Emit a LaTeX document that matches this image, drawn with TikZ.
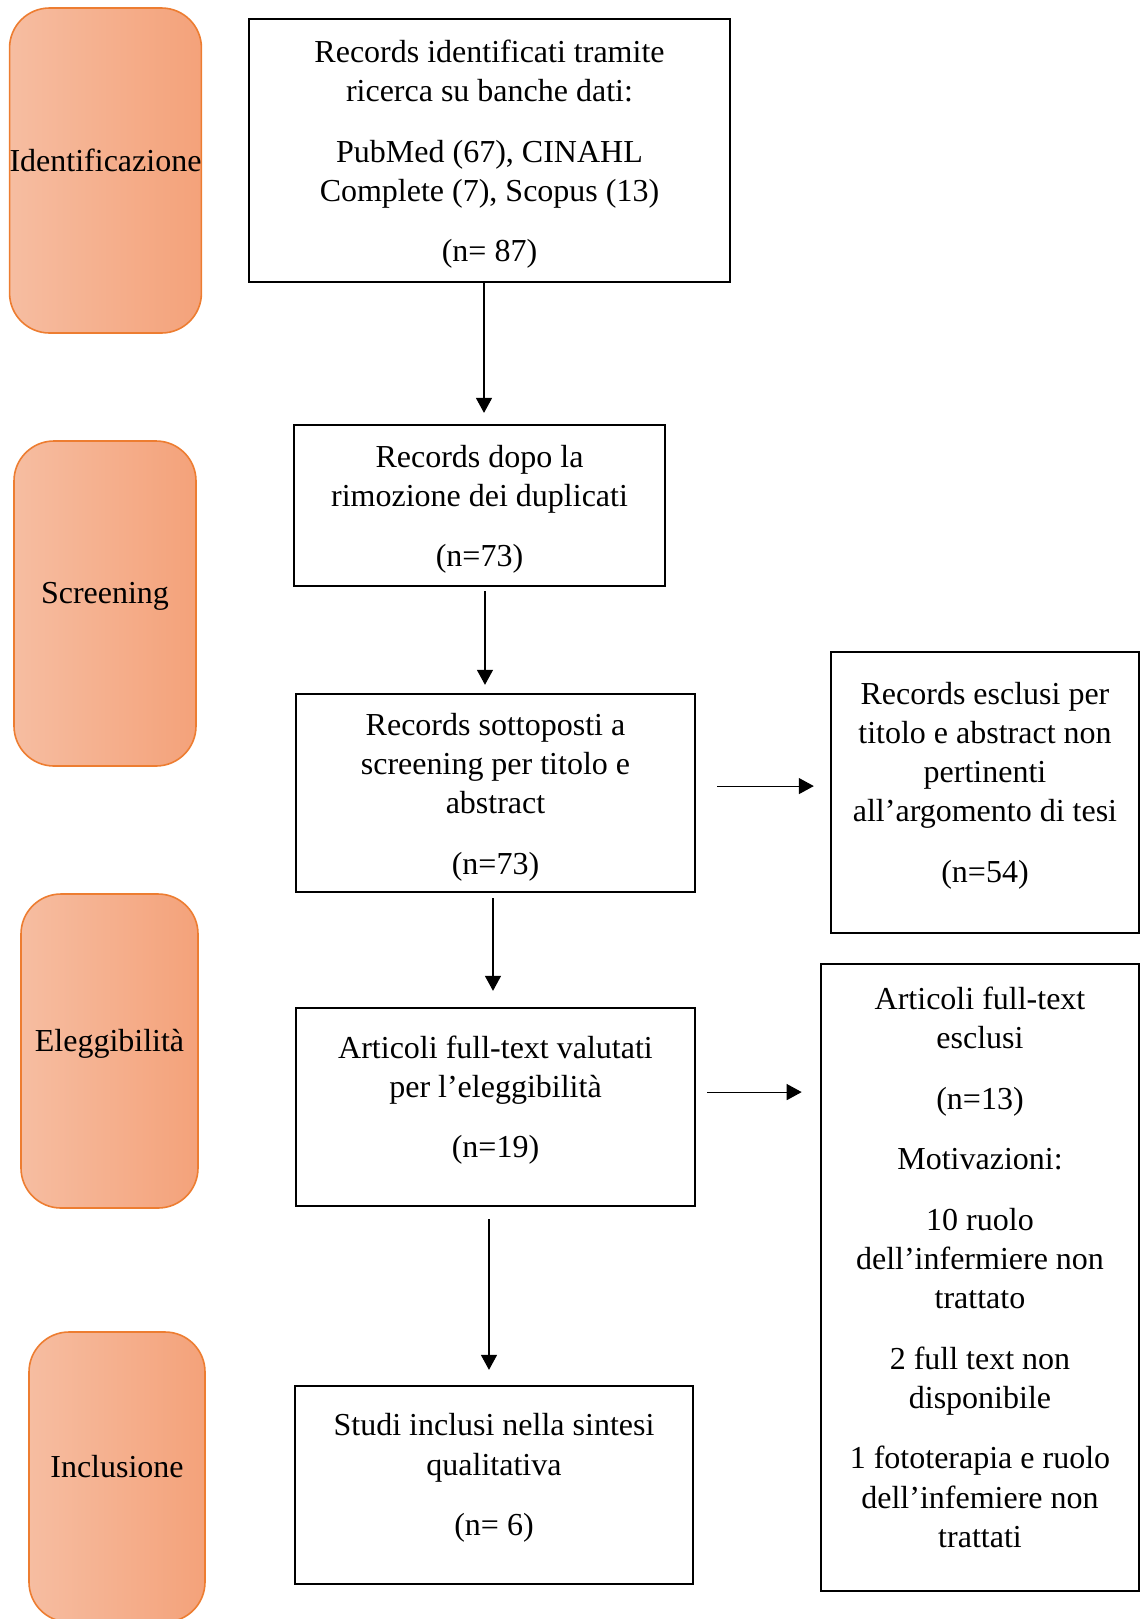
\documentclass[tikz,border=0pt]{standalone}
\usepackage{fontspec}
\setmainfont{Liberation Serif}
\usetikzlibrary{arrows.meta}
\definecolor{phaseleft}{HTML}{F6BDA1}
\definecolor{phaseright}{HTML}{F4A27A}
\definecolor{phaseline}{HTML}{ED7D31}

\begin{document}
\begin{tikzpicture}[x=0.375pt, y=-0.375pt,
    font=\fontsize{12}{14.7}\selectfont,
    box/.style 2 args={draw, line width=0.9pt, align=center, inner sep=0pt,
      minimum width=#1*0.375pt, minimum height=#2*0.375pt},
    phase/.style 2 args={draw=phaseline, line width=0.6pt, rounded corners=15pt,
      left color=phaseleft, right color=phaseright, align=center, inner sep=0pt,
      minimum width=#1*0.375pt, minimum height=#2*0.375pt},
    arr/.style={-{Triangle[length=5.6pt,width=6pt]}, line width=0.4pt}]
    \useasboundingbox (0,0) rectangle (1141,1619);
    \def\g{8pt}
    \def\tup{\rule[-7.8pt]{0pt}{0pt}}
    \def\tdown{\rule{0pt}{11.2pt}}
    % phases
    \node [phase={185}{325}] (A0_0) at (105.5, 170.5) {Identificazione\rule[-8pt]{0pt}{0pt}};
    \node [phase={182}{325}] (A1_0) at (105, 603.5) {Screening\rule[-8pt]{0pt}{0pt}};
    \node [phase={177}{314}] (A3_0) at (109.5, 1051) {Eleggibilità\rule[-8pt]{0pt}{0pt}};
    \node [phase={176}{290}] (A4_0) at (117, 1477) {Inclusione\rule[-8pt]{0pt}{0pt}};
    % main column
    \node [box={481}{263}] (A0_1) at (489.5, 150.5) {\tdown Records identificati tramite\\ ricerca su banche dati:\\[\g] PubMed (67), CINAHL\\ Complete (7), Scopus (13)\\[\g] (n= 87)};
    \node [box={371}{161}] (A1_1) at (479.5, 505.5) {\tdown Records dopo la\\ rimozione dei duplicati\\[\g] (n=73)};
    \node [box={399}{198}] (A2_1) at (495.5, 793) {\tdown Records sottoposti a\\ screening per titolo e\\ abstract\\[\g] (n=73)};
    \node [box={399}{198}] (A3_1) at (495.5, 1107) {Articoli full-text valutati\\ per l’eleggibilità\\[\g] (n=19)\tup};
    \node [box={398}{198}] (A4_1) at (494, 1485) {Studi inclusi nella sintesi\\ qualitativa\\[\g] (n= 6)\tup};
    % exclusions
    \node [box={308}{281}] (A2_2) at (985, 792.5) {Records esclusi per\\ titolo e abstract non\\ pertinenti\\ all’argomento di tesi\\[\g] (n=54)\tup};
    \node [box={318}{627}] (A3_2) at (980, 1277.5) {Articoli full-text\\ esclusi\\[\g] (n=13)\\[\g] Motivazioni:\\[\g] 10 ruolo\\ dell’infermiere non\\ trattato\\[\g] 2 full text non\\ disponibile\\[\g] 1 fototerapia e ruolo\\ dell’infemiere non\\ trattati\tup};
    % arrows
    \path ([xshift=-2.06pt]A0_1.south) edge [arr, shorten >=4.1pt] ([xshift=-2.06pt]A0_1.south |- A1_1.north);
    \path ([xshift=2.06pt]A1_1.south) edge [arr, shorten <=1.5pt, shorten >=3pt] ([xshift=2.06pt]A1_1.south |- A2_1.north);
    \path ([xshift=-0.94pt]A2_1.south) edge [arr, shorten <=1.9pt, shorten >=6pt] ([xshift=-0.94pt]A2_1.south |- A3_1.north);
    \path ([xshift=-2.44pt]A3_1.south) edge [arr, shorten <=4.5pt, shorten >=5.6pt] ([xshift=-2.44pt]A3_1.south |- A4_1.north);
    \path ([yshift=2.6pt]A2_1.east) edge [arr, shorten <=7.9pt, shorten >=6pt] ([yshift=2.6pt]A2_1.east -| A2_2.west);
    \path ([yshift=5.6pt]A3_1.east) edge [arr, shorten <=4.1pt, shorten >=6.8pt] ([yshift=5.6pt]A3_1.east -| A3_2.west);
  \end{tikzpicture}
\end{document}
